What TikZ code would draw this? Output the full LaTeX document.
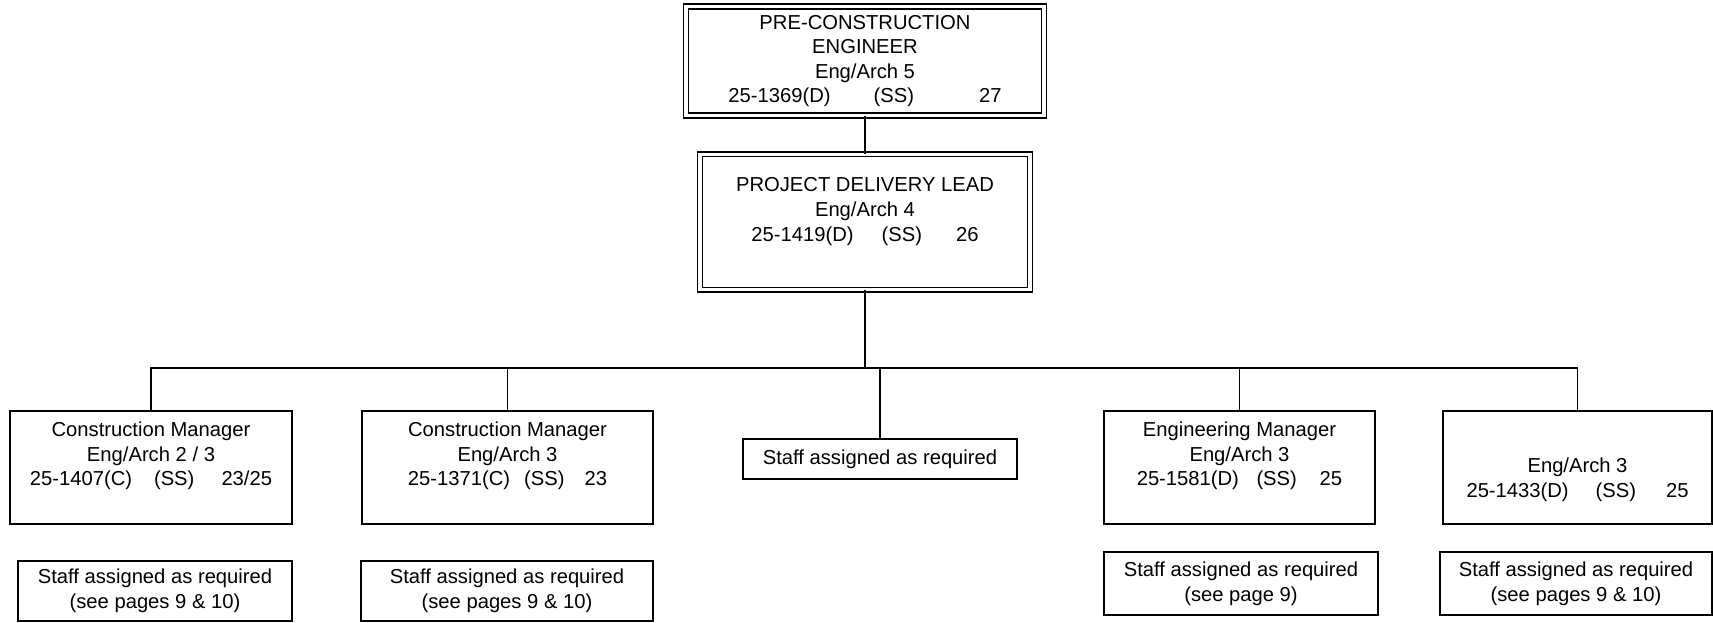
\documentclass[tikz,border=0pt]{standalone}
\usepackage{fontspec}
\setmainfont{Liberation Sans}

\begin{document}
\begin{tikzpicture}[x=0.02cm,y=-0.02cm,font=\fontsize{11.5}{14}\selectfont]
		\tikzset{post/.style = {draw,line width=0.85pt,inner sep=0pt,align=center}}
		\tikzset{lead/.style = {draw,line width=0.85pt,double,double distance=1.9pt,inner sep=0pt,align=center}}
		\tikzset{txt/.style = {inner sep=0pt,align=center}}
		\tikzset{edge/.style = {-,line width=0.8pt}}
		
		\useasboundingbox (0,0) rectangle (1713,622);
		
		\node[lead,minimum width=7.16cm,minimum height=2.18cm] (pce) at (865,61) {PRE-CONSTRUCTION\\ENGINEER\\Eng/Arch 5\\25-1369(D)\hspace{24.5pt}(SS)\hspace{37pt}27};
		\node[lead,minimum width=6.6cm,minimum height=2.71cm] (pdl) at (865,222) {};
		\node[txt] (pdl-t) at (865,211.5) {PROJECT DELIVERY LEAD\\Eng/Arch 4\\25-1419(D)\hspace{16pt}(SS)\hspace{19.3pt}26};
		
		\node[post,minimum width=5.64cm,minimum height=2.26cm] (cm1) at (151,467.5) {};
		\node[post,minimum width=5.82cm,minimum height=2.26cm] (cm2) at (507.5,467.5) {};
		\node[post,minimum width=5.48cm,minimum height=0.8cm] (staff0) at (880,459) {Staff assigned as required};
		\node[post,minimum width=5.42cm,minimum height=2.26cm] (em) at (1239.5,467.5) {};
		\node[post,minimum width=5.38cm,minimum height=2.26cm] (ea3) at (1577.5,467.5) {};
		
		\node[txt] (cm1-t) at (151,456) {Construction Manager\\Eng/Arch 2 / 3\\25-1407(C)\hspace{12.5pt}(SS)\hspace{15.4pt}23/25};
		\node[txt] (cm2-t) at (507.5,456) {Construction Manager\\Eng/Arch 3\\25-1371(C)\hspace{8pt}(SS)\hspace{11.4pt}23};
		\node[txt] (em-t) at (1239.5,456) {Engineering Manager\\Eng/Arch 3\\25-1581(D)\hspace{10pt}(SS)\hspace{13pt}25};
		\node[txt] (ea3-t) at (1577.5,480) {Eng/Arch 3\\25-1433(D)\hspace{15.4pt}(SS)\hspace{17pt}25};
		
		\node[post,minimum width=5.48cm,minimum height=1.2cm] (staff1) at (155,591) {Staff assigned as required\\(see pages 9 \& 10)};
		\node[post,minimum width=5.84cm,minimum height=1.2cm] (staff2) at (507,591) {Staff assigned as required\\(see pages 9 \& 10)};
		\node[post,minimum width=5.48cm,minimum height=1.26cm] (staff3) at (1241,583.5) {Staff assigned as required\\(see page 9)};
		\node[post,minimum width=5.44cm,minimum height=1.26cm] (staff4) at (1576,583.5) {Staff assigned as required\\(see pages 9 \& 10)};
		
		\coordinate (bus) at (865,368);
		
		\draw[edge] (pce) to (pdl);
		\draw[edge,line width=1.6pt] (pdl.south) to (bus);
		\draw[edge,line width=0.9pt] (cm1.north) |- (ea3.north |- bus) -- (ea3.north);
		\foreach \n in {cm2,staff0,em}
			\draw[edge] (\n.north |- bus) to (\n.north);
		\end{tikzpicture}
\end{document}
